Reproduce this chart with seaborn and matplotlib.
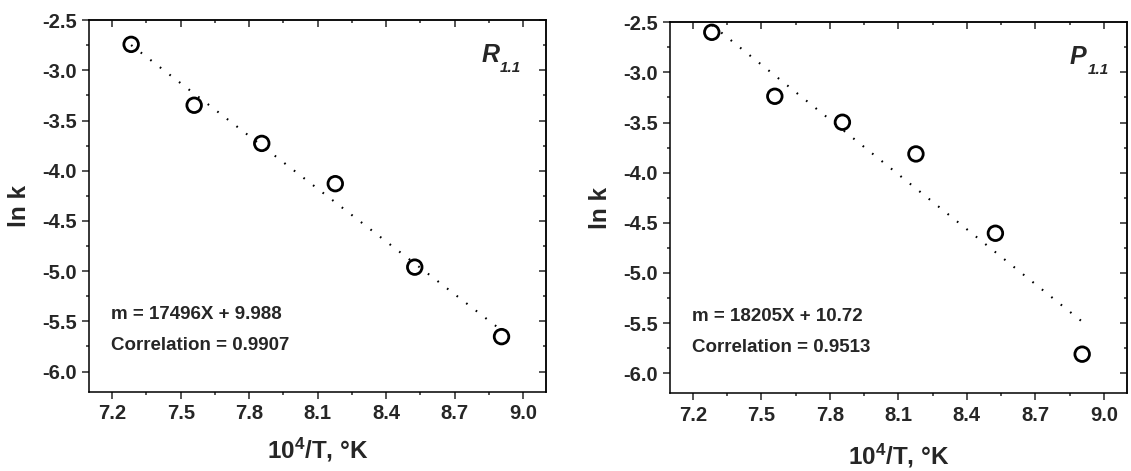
import numpy as np
import seaborn as sns
import matplotlib
matplotlib.use("Agg")
import matplotlib.pyplot as plt
from matplotlib.ticker import MultipleLocator, FormatStrFormatter

# 10^4/T values (same temperatures for both reactions)
inv_T = [7.283, 7.559, 7.855, 8.177, 8.525, 8.905]
lnk_R = [-2.742, -3.348, -3.728, -4.129, -4.960, -5.652]
lnk_P = [-2.600, -3.238, -3.497, -3.813, -4.604, -5.810]

fit_R = "m = 17496X + 9.988"
corr_R = "Correlation = 0.9907"
fit_P = "m = 18205X + 10.72"
corr_P = "Correlation = 0.9513"

sns.set_style("ticks")
plt.rcParams["font.family"] = ["Liberation Sans", "DejaVu Sans"]
plt.rcParams["font.weight"] = "bold"
plt.rcParams["mathtext.fontset"] = "custom"
plt.rcParams["mathtext.rm"] = "Liberation Sans:bold"
plt.rcParams["mathtext.bf"] = "Liberation Sans:bold"
plt.rcParams["mathtext.default"] = "rm"

fig = plt.figure(figsize=(11.31, 4.71), dpi=100)
ax1 = fig.add_axes([0.079, 0.1684, 0.4038, 0.789])
ax2 = fig.add_axes([0.5924, 0.165, 0.4038, 0.7877])


def panel(ax, y, letter, lx, fit_txt, corr_txt, xpad):
    sns.regplot(x=inv_T, y=y, ax=ax, scatter=False, ci=None, truncate=True,
                line_kws=dict(color="black", lw=1.5, ls=(0, (0.8, 5))))
    sns.scatterplot(x=inv_T, y=y, ax=ax, s=110, facecolor="none",
                    edgecolor="black", linewidth=2.0, zorder=3)
    ax.set_xlim(7.1, 9.1)
    ax.set_ylim(-6.2, -2.5)
    ax.xaxis.set_major_locator(MultipleLocator(0.3))
    ax.xaxis.set_minor_locator(MultipleLocator(0.15))
    ax.yaxis.set_major_locator(MultipleLocator(0.5))
    ax.yaxis.set_minor_locator(MultipleLocator(0.25))
    ax.xaxis.set_major_formatter(FormatStrFormatter("%.1f"))
    ax.yaxis.set_major_formatter(FormatStrFormatter("%.1f"))
    ax.tick_params(which="major", direction="out", length=5, width=1.1,
                   labelsize=14.5, pad=4)
    ax.tick_params(which="minor", direction="out", length=2.5, width=1.1)
    for s in ax.spines.values():
        s.set_linewidth(1.1)
        s.set_color("black")
    # mirrored ticks on top / right, pointing inwards
    top = ax.secondary_xaxis("top")
    top.xaxis.set_major_locator(MultipleLocator(0.3))
    top.xaxis.set_minor_locator(MultipleLocator(0.15))
    top.tick_params(which="major", direction="in", length=5, width=1.1, labeltop=False)
    top.tick_params(which="minor", direction="in", length=2.5, width=1.1)
    top.spines["top"].set_linewidth(1.1)
    right = ax.secondary_yaxis("right")
    right.yaxis.set_major_locator(MultipleLocator(0.5))
    right.yaxis.set_minor_locator(MultipleLocator(0.25))
    right.tick_params(which="major", direction="in", length=5, width=1.1, labelright=False)
    right.tick_params(which="minor", direction="in", length=2.5, width=1.1)
    right.spines["right"].set_linewidth(1.1)

    ax.set_xlabel(r"$10^4$/T, °K", fontsize=17.5, fontweight="bold", labelpad=xpad)
    ax.set_ylabel("ln k", fontsize=17.5, fontweight="bold", labelpad=8)
    # panel label: bold italic letter with italic subscript
    ax.text(lx, 0.888, letter, transform=ax.transAxes, fontsize=18,
            fontweight="bold", style="italic")
    ax.annotate("1.1", xy=(lx, 0.888), xycoords="axes fraction",
                xytext=(13, -7.5), textcoords="offset points",
                fontsize=11, fontweight="bold", style="italic")
    ax.text(7.195, -5.43, fit_txt, fontsize=13.5, fontweight="bold", va="center")
    ax.text(7.195, -5.745, corr_txt, fontsize=13.5, fontweight="bold", va="center")


panel(ax1, lnk_R, "R", 0.858, fit_R, corr_R, 9)
panel(ax2, lnk_P, "P", 0.875, fit_P, corr_P, 12)

fig.savefig("out.png", dpi=100)
